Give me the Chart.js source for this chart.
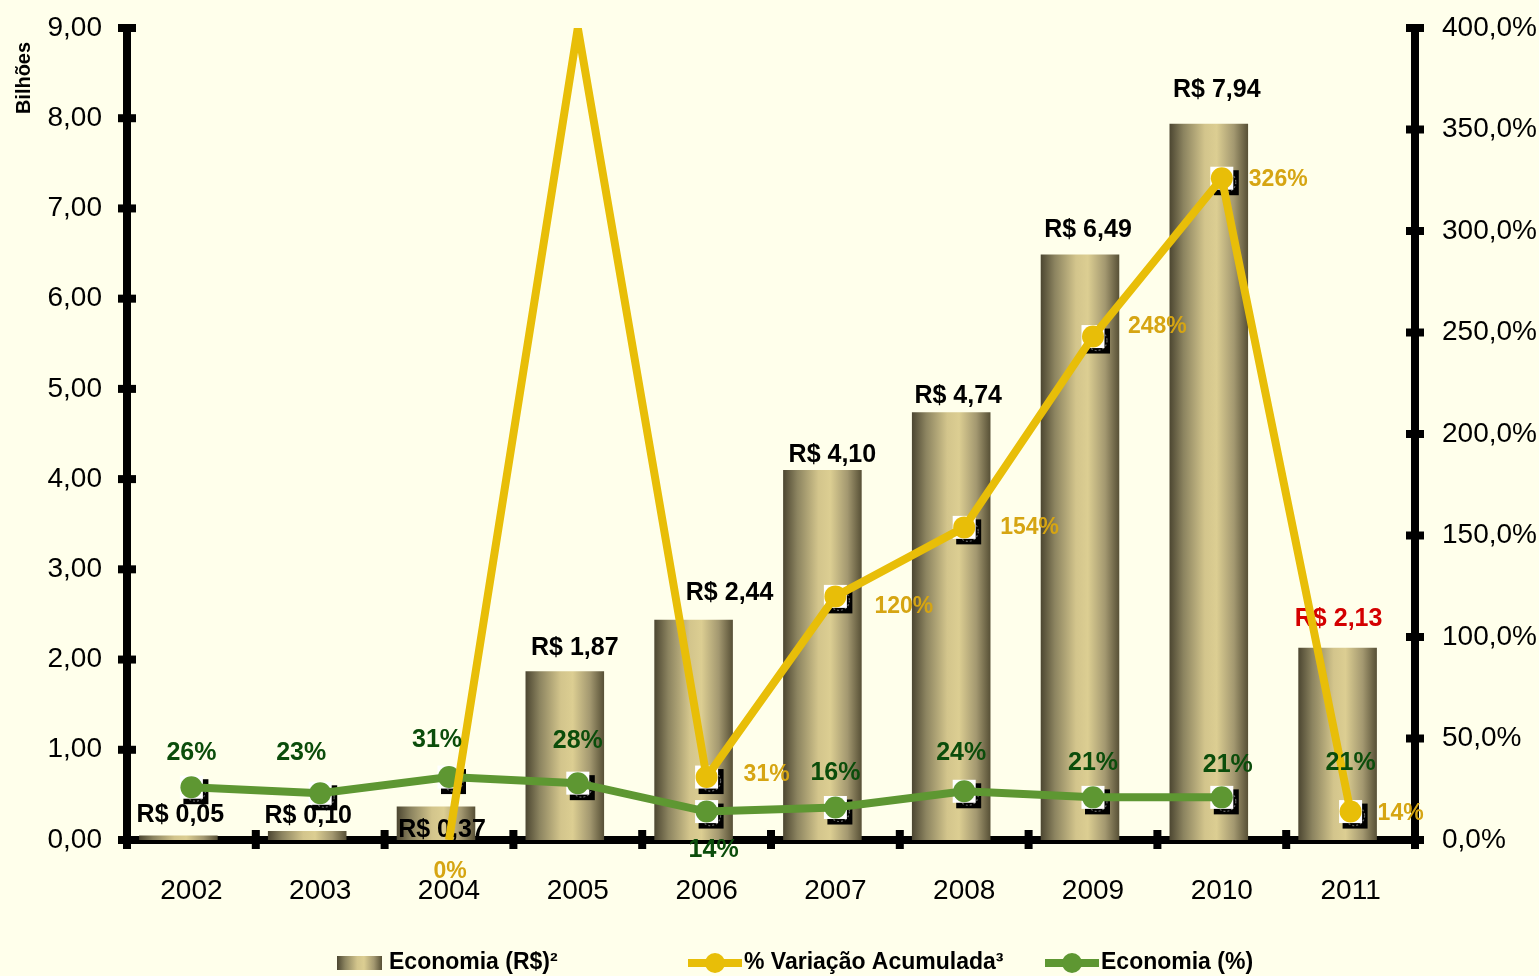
<!DOCTYPE html>
<html>
<head>
<meta charset="utf-8">
<script src="https://cdn.jsdelivr.net/npm/chart.js@4/dist/chart.umd.min.js"></script>
<style>
  html, body { margin: 0; padding: 0; background: #FFFFEB; }
  #box { width: 1539px; height: 976px; }
</style>
</head>
<body>
<div id="box"><canvas id="grafico" width="1539" height="976"></canvas></div>
<script>
var anos = ['2002', '2003', '2004', '2005', '2006', '2007', '2008', '2009', '2010', '2011'];
var economiaReais = [0.05, 0.10, 0.37, 1.87, 2.44, 4.10, 4.74, 6.49, 7.94, 2.13];
var variacaoAcumulada = [null, null, 0, 400, 31, 120, 154, 248, 326, 14];
var economiaPct = [26, 23, 31, 28, 14, 16, 24, 21, 21, 21];

var FONTE = "'Liberation Sans', Arial, sans-serif";
var AMARELO = '#E8BE08';
var VERDE = '#5E9732';
var DESLOC_BARRA = -13; // colunas ficam um pouco à esquerda do centro da categoria

function gradienteBarra(ctx, x0, x1) {
	var g = ctx.createLinearGradient(x0, 0, x1, 0);
	g.addColorStop(0, '#4C4631');
	g.addColorStop(0.18, '#8C8460');
	g.addColorStop(0.45, '#D3C58C');
	g.addColorStop(0.6, '#DCCE92');
	g.addColorStop(0.82, '#A39870');
	g.addColorStop(1, '#575036');
	return g;
}

function virgula(v, casas) {
	return v.toFixed(casas).replace('.', ',');
}

var deslocaBarras = {
	id: 'deslocaBarras',
	afterDatasetUpdate: function(chart, args) {
		if (args.index !== 0) return;
		args.meta.data.forEach(function(bar) { bar.x += DESLOC_BARRA; });
	}
};

// eixos grossos com as marcas cruzando a linha
var eixos = {
	id: 'eixos',
	beforeDatasetsDraw: function(chart) {
		var c = chart.ctx, a = chart.chartArea;
		var n = anos.length, w = (a.right - a.left) / n;
		c.save();
		c.fillStyle = '#000';
		c.fillRect(a.left - 4, a.top - 4, 8, a.bottom - a.top + 8);
		c.fillRect(a.right - 4, a.top - 4, 8, a.bottom - a.top + 8);
		c.fillRect(a.left - 9, a.bottom - 4, a.right - a.left + 14, 8);
		chart.scales.y.ticks.forEach(function(t) {
			var y = chart.scales.y.getPixelForValue(t.value);
			c.fillRect(a.left - 9, y - 4, 18, 8);
		});
		chart.scales.y1.ticks.forEach(function(t) {
			var y = chart.scales.y1.getPixelForValue(t.value);
			c.fillRect(a.right - 9, y - 4, 18, 8);
		});
		for (var i = 0; i <= n; i++) {
			var x = a.left + i * w;
			c.fillRect(x - 4, a.bottom - 10, 8, 19);
		}
		c.restore();
	}
};

// quadrados branco/preto atrás dos marcadores das linhas
var caixasMarcador = {
	id: 'caixasMarcador',
	beforeDatasetDraw: function(chart, args) {
		var meta = args.meta;
		if (meta.type !== 'line') return;
		var c = chart.ctx;
		c.save();
		meta.data.forEach(function(p) {
			if (p.skip || !p.options || p.options.radius === 0) return;
			c.fillStyle = '#000';
			c.fillRect(p.x - 8, p.y - 8, 25, 25);
			c.setLineDash([2, 2]);
			c.strokeStyle = '#666';
			c.lineWidth = 1.2;
			c.beginPath();
			c.arc(p.x + 4, p.y + 4, 10, 0, Math.PI * 2);
			c.stroke();
			c.setLineDash([]);
			c.fillStyle = '#fff';
			c.fillRect(p.x - 11.5, p.y - 11.5, 23, 23);
		});
		c.restore();
	}
};

var rotulos = {
	id: 'rotulos',
	afterDatasetDraw: function(chart, args, opts) {
		if (args.index !== 0) return;
		var c = chart.ctx;
		c.save();
		c.font = 'bold 25px ' + FONTE;
		c.textAlign = 'center';
		c.textBaseline = 'middle';
		args.meta.data.forEach(function(bar, i) {
			var x = chart.scales.x.getPixelForValue(i);
			c.fillStyle = i === anos.length - 1 ? '#D40000' : '#000';
			c.fillText('R$ ' + virgula(economiaReais[i], 2), x + opts.barraDx[i], bar.y + opts.barraDy[i]);
		});
		c.restore();
	},
	afterDatasetsDraw: function(chart, args, opts) {
		var c = chart.ctx;
		c.save();
		c.textBaseline = 'middle';

		c.font = 'bold 25px ' + FONTE;
		c.fillStyle = '#0B4D0B';
		c.textAlign = 'center';
		chart.getDatasetMeta(1).data.forEach(function(p, i) {
			c.fillText(economiaPct[i] + '%', p.x + opts.verdeDx[i], p.y + opts.verdeDy[i]);
		});

		c.font = 'bold 23px ' + FONTE;
		c.fillStyle = '#D6A512';
		chart.getDatasetMeta(2).data.forEach(function(p, i) {
			var o = opts.amarelo[i];
			if (variacaoAcumulada[i] === null || !o) return;
			c.textAlign = o[2];
			c.fillText(variacaoAcumulada[i] + '%', p.x + o[0], p.y + o[1]);
		});

		// título do eixo
		c.save();
		c.translate(24, 78);
		c.rotate(-Math.PI / 2);
		c.font = 'bold 20px ' + FONTE;
		c.fillStyle = '#000';
		c.textAlign = 'center';
		c.fillText('Bilhões', 0, 0);
		c.restore();

		// legenda
		var yl = 963;
		c.font = 'bold 23px ' + FONTE;
		c.textAlign = 'left';
		c.fillStyle = gradienteBarra(c, 337, 382);
		c.fillRect(337, yl - 7, 45, 14);
		c.fillStyle = '#000';
		c.fillText('Economia (R$)²', 389, yl);

		[[688, AMARELO, '% Variação Acumulada³'], [1045, VERDE, 'Economia (%)']].forEach(function(it) {
			c.fillStyle = it[1];
			c.fillRect(it[0], yl - 4, 54, 8);
			c.beginPath();
			c.arc(it[0] + 27, yl, 10, 0, Math.PI * 2);
			c.fill();
			c.fillStyle = '#000';
			c.fillText(it[2], it[0] + 56, yl);
		});
		c.restore();
	}
};

function larguraFixa(w) {
	return function(s) {
		s.width = w;
		s.paddingTop = 0;
		s.paddingBottom = 0;
	};
}

var ctx = document.getElementById('grafico').getContext('2d');
var grafico = new Chart(ctx, {
	data: {
		labels: anos,
		datasets: [
			{
				type: 'bar',
				label: 'Economia (R$)²',
				data: economiaReais,
				yAxisID: 'y',
				order: 3,
				barPercentage: 0.61,
				categoryPercentage: 1,
				backgroundColor: function(context) {
					var chart = context.chart, a = chart.chartArea;
					if (!a || context.type !== 'data') return '#D3C58C';
					var w = (a.right - a.left) / anos.length * 0.61;
					var x = chart.scales.x.getPixelForValue(context.dataIndex) + DESLOC_BARRA;
					return gradienteBarra(chart.ctx, x - w / 2, x + w / 2);
				}
			},
			{
				type: 'line',
				label: 'Economia (%)',
				data: economiaPct,
				yAxisID: 'y1',
				order: 2,
				borderColor: VERDE,
				borderWidth: 8,
				pointRadius: [11, 11, 11, 11, 11, 11, 11, 11, 11, 0],
				pointBackgroundColor: VERDE,
				pointBorderWidth: 0,
				segment: {
					borderColor: function(s) { return s.p1DataIndex === anos.length - 1 ? 'rgba(0,0,0,0)' : VERDE; }
				}
			},
			{
				type: 'line',
				label: '% Variação Acumulada³',
				data: variacaoAcumulada,
				yAxisID: 'y1',
				order: 1,
				borderColor: AMARELO,
				borderWidth: 8,
				pointRadius: [0, 0, 0, 0, 11, 11, 11, 11, 11, 11],
				pointBackgroundColor: AMARELO,
				pointBorderWidth: 0
			}
		]
	},
	options: {
		responsive: false,
		animation: false,
		layout: { padding: { top: 28, left: 0, right: 0, bottom: 0 } },
		plugins: {
			legend: { display: false },
			tooltip: { enabled: false },
			rotulos: {
				barraDx: [-11, -12, -7, -3, 23, -3, -6, -5, -5, -12],
				barraDy: [-20, -15, 23, -23, -27, -15, -16, -24, -34, -29],
				verdeDx: [0, -19, -12, 0, 7, 0, -3, 0, 6, 0],
				verdeDy: [-34, -40, -37, -42, 39, -34, -38, -34, -32, -34],
				amarelo: [null, null, [1, 32, 'center'], null, [37, -2, 'left'], [39, 10, 'left'],
					[36, 0, 'left'], [35, -10, 'left'], [27, 1, 'left'], [27, 2, 'left']]
			}
		},
		scales: {
			x: {
				grid: { display: false },
				border: { display: false },
				ticks: { color: '#000', padding: 26, font: { family: FONTE, size: 28 } },
				afterFit: function(s) { s.height = 136; }
			},
			y: {
				position: 'left',
				min: 0,
				max: 9,
				grid: { display: false },
				border: { display: false },
				ticks: {
					stepSize: 1,
					color: '#000',
					padding: 17,
					font: { family: FONTE, size: 28 },
					callback: function(v) { return virgula(v, 2); }
				},
				afterFit: larguraFixa(127)
			},
			y1: {
				position: 'right',
				min: 0,
				max: 400,
				grid: { display: false },
				border: { display: false },
				ticks: {
					stepSize: 50,
					color: '#000',
					padding: 19,
					font: { family: FONTE, size: 28 },
					callback: function(v) { return virgula(v, 1) + '%'; }
				},
				afterFit: larguraFixa(124)
			}
		}
	},
	plugins: [deslocaBarras, eixos, caixasMarcador, rotulos]
});
</script>
</body>
</html>
